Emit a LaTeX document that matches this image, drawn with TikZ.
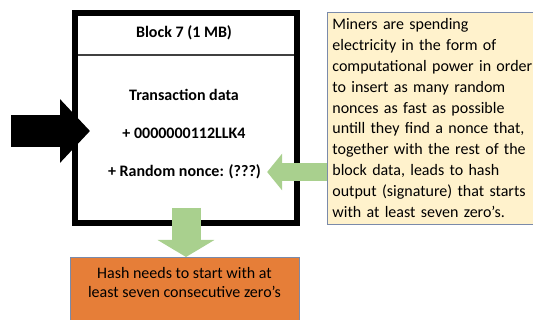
\documentclass[tikz,border=0pt]{standalone}
\usepackage{fontspec}
\setmainfont{Carlito}
\usepackage{tikz}
\usetikzlibrary{positioning,arrows.meta}
\definecolor{arrowgreen}{RGB}{169,208,142}
\definecolor{hashorange}{RGB}{230,126,56}
\definecolor{noteyellow}{RGB}{255,242,204}
\definecolor{edgeblue}{RGB}{122,138,170}
\tikzset{block node/.style={draw,line width=6pt,minimum width=222pt,minimum height=210pt,inner sep=0pt},
         entry node/.style={font=\fontsize{16}{19}\selectfont\bfseries,inner sep=0pt},
         note node/.style={draw=edgeblue,fill=noteyellow,line width=0.8pt,minimum height=212pt,
                           text width=206pt,align=left,inner ysep=0pt,inner xsep=5pt,font=\fontsize{16}{20.8}\selectfont},
         hash node/.style={draw=edgeblue,fill=hashorange,line width=0.8pt,minimum width=229pt,inner sep=0pt,
                           align=center,font=\fontsize{16}{19}\selectfont,text height=40.5pt,text depth=25.5pt},
         black arrow/.style={line width=32pt,-{Triangle[width=62pt,length=30pt]}},
         nonce arrow/.style={arrowgreen,line width=18pt,-{Triangle[width=36pt,length=15pt]}},
         hash arrow/.style={arrowgreen,line width=29pt,-{Triangle[width=56pt,length=17pt]}},
            }
\begin{document}
\begin{tikzpicture}[x=1pt,y=-1pt]
    \useasboundingbox (0,0) rectangle (533,320);
    \node[block node] (block) at (186,118) {};
    \draw[line width=1.5pt,darkgray,shorten <=6pt,shorten >=6pt]
      ([yshift=-45pt]block.north west) -- ([yshift=-45pt]block.north east);
    \node[entry node] (title) at (184,33) {Block 7 (1 MB)};
    \node[entry node] (txdata) at (184,95) {Transaction data};
    \node[entry node] (prevhash) at (184,133) {+ 0000000112LLK4};
    \node[entry node] (nonce) at (184.5,172) {+ Random nonce: (???)};

    \node[note node,anchor=west] (note) at (327,118) {Miners are spending\\electricity in the form of\\computational power in order\\to insert as many random\\nonces as fast as possible\\untill they find a nonce that,\\together with the rest of the\\block data, leads to hash\\output (signature) that starts\\with at least seven zero's.};
    \node[hash node,anchor=north] (hash) at (184.5,257) {Hash needs to start with at\\least seven consecutive zero's};

    \coordinate (src) at (11,131);
    \draw[black arrow] (src) -- ([xshift=18pt]block.west |- src);
    \draw[nonce arrow] (note.west |- nonce) -- ([xshift=6pt]nonce.east);
    \draw[hash arrow] ([yshift=18pt]block.south) -- (block.south |- hash.north);
\end{tikzpicture}
\end{document}
